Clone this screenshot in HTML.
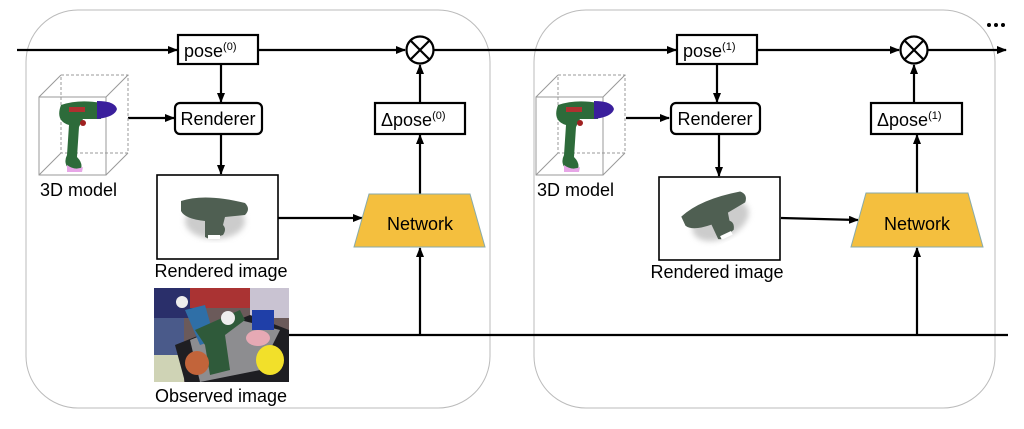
<!DOCTYPE html>
<html><head><meta charset="utf-8"><style>
html,body{margin:0;padding:0;background:#fff;width:1024px;height:429px;overflow:hidden}
svg{display:block}
text{font-family:"Liberation Sans",sans-serif;fill:#000}
</style></head><body>
<svg width="1024" height="429" viewBox="0 0 1024 429" xmlns="http://www.w3.org/2000/svg">
<defs>
<marker id="ah" markerWidth="10" markerHeight="8" refX="9" refY="4" orient="auto" markerUnits="userSpaceOnUse">
<path d="M0,0 L10,4 L0,8 z" fill="#000"/></marker>
<filter id="bl"><feGaussianBlur stdDeviation="3"/></filter>
<g id="cube">
<g stroke="#999" stroke-width="1" fill="none">
<path d="M0,78 L22,56 M0,0 L22,-22 M67,0 L89,-22 M67,78 L89,56"/>
<rect x="22" y="-22" width="67" height="78" stroke-dasharray="3,2"/>
<rect x="0" y="0" width="67" height="78"/>
</g>
<path d="M22,8 Q40,2 62,6 L62,22 L44,22 L40,30 L38,60 Q44,66 42,72 L30,72 Q24,66 28,58 L30,28 Q16,24 22,8z" fill="#2d6b3a"/>
<path d="M58,4 Q76,4 78,12 Q76,20 58,22z" fill="#3a1f9c"/>
<rect x="30" y="10" width="16" height="5" fill="#b03030"/>
<circle cx="44" cy="26" r="3" fill="#a02020"/>
<path d="M28,68 Q36,74 44,70 L43,75 L28,75z" fill="#e7a6e7"/>
</g>
<g id="rend">
<ellipse cx="0" cy="6" rx="30" ry="18" fill="#ccc" filter="url(#bl)"/>
<path d="M-34,-14 Q-10,-22 30,-12 Q36,-6 30,0 L10,2 L8,10 Q12,14 8,20 L-6,24 L-10,22 L-10,6 Q-30,4 -34,-4z" fill="#4f5f52"/>
<rect x="-7" y="20" width="12" height="4" fill="#fff"/>
</g>
</defs>

<rect x="26" y="10" width="464" height="398" rx="52" fill="none" stroke="#bbb" stroke-width="1"/>
<rect x="534" y="10" width="461" height="398" rx="52" fill="none" stroke="#bbb" stroke-width="1"/>

<g stroke="#000" stroke-width="2.2" fill="none">
<line x1="17" y1="50" x2="177" y2="50" marker-end="url(#ah)"/>
<line x1="258" y1="50" x2="405" y2="50" marker-end="url(#ah)"/>
<line x1="434" y1="50" x2="676" y2="50" marker-end="url(#ah)"/>
<line x1="757" y1="50" x2="899" y2="50" marker-end="url(#ah)"/>
<line x1="928" y1="50" x2="1006" y2="50" marker-end="url(#ah)"/>
<line x1="221" y1="64" x2="221" y2="102" marker-end="url(#ah)"/>
<line x1="128" y1="118" x2="174" y2="118" marker-end="url(#ah)"/>
<line x1="221" y1="134" x2="221" y2="174" marker-end="url(#ah)"/>
<line x1="278" y1="218" x2="362" y2="218" marker-end="url(#ah)"/>
<line x1="420" y1="194" x2="420" y2="135" marker-end="url(#ah)"/>
<line x1="420" y1="103" x2="420" y2="65" marker-end="url(#ah)"/>
<line x1="420" y1="335" x2="420" y2="248" marker-end="url(#ah)"/>
<line x1="717" y1="64" x2="717" y2="102" marker-end="url(#ah)"/>
<line x1="626" y1="118" x2="669" y2="118" marker-end="url(#ah)"/>
<line x1="719" y1="134" x2="719" y2="176" marker-end="url(#ah)"/>
<line x1="781" y1="218" x2="858" y2="220" marker-end="url(#ah)"/>
<line x1="917" y1="193" x2="917" y2="135" marker-end="url(#ah)"/>
<line x1="914" y1="103" x2="914" y2="65" marker-end="url(#ah)"/>
<line x1="917" y1="335" x2="917" y2="248" marker-end="url(#ah)"/>
<line x1="288" y1="335" x2="1008" y2="335"/>
</g>

<g stroke="#000" stroke-width="2.2" fill="#fff">
<circle cx="420" cy="50" r="13.5"/>
<circle cx="914" cy="50" r="13.5"/>
</g>
<g stroke="#000" stroke-width="2.2">
<path d="M410.5,40.5 L429.5,59.5 M429.5,40.5 L410.5,59.5"/>
<path d="M904.5,40.5 L923.5,59.5 M923.5,40.5 L904.5,59.5"/>
</g>
<g fill="#000"><circle cx="989" cy="25" r="2"/><circle cx="996" cy="25" r="2"/><circle cx="1003" cy="25" r="2"/></g>

<g stroke="#000" stroke-width="2.2" fill="#fff">
<rect x="178" y="35" width="80" height="29"/>
<rect x="175" y="103" width="87" height="31" rx="5"/>
<rect x="375" y="103" width="90" height="31"/>
<rect x="157" y="175" width="121" height="84" stroke-width="1.6"/>
<rect x="677" y="35" width="80" height="29"/>
<rect x="671" y="103" width="89" height="31" rx="5"/>
<rect x="871" y="103" width="91" height="31"/>
<rect x="659" y="177" width="121" height="83" stroke-width="1.6"/>
</g>
<polygon points="369,194 470,194 485,247 354,247" fill="#f4bf3e" stroke="#8aa" stroke-width="1"/>
<polygon points="866,193 968,193 983,247 851,247" fill="#f4bf3e" stroke="#8aa" stroke-width="1"/>

<use href="#cube" x="39" y="97"/>
<use href="#cube" x="536" y="97"/>
<use href="#rend" x="215" y="215"/>
<g transform="translate(718,215) rotate(-25)"><use href="#rend"/></g>

<g>
<rect x="154" y="288" width="135" height="94" fill="#6b5a5a"/>
<rect x="154" y="288" width="40" height="30" fill="#2a2f6a"/>
<rect x="190" y="288" width="60" height="20" fill="#a33"/>
<rect x="250" y="288" width="39" height="30" fill="#c9c3d2"/>
<rect x="154" y="318" width="30" height="40" fill="#4a5a8a"/>
<rect x="154" y="355" width="30" height="27" fill="#cfd3b5"/>
<polygon points="175,345 250,315 289,330 289,382 185,382" fill="#1e1e22"/>
<polygon points="190,340 240,320 280,330 260,370 200,382" fill="#d7d7da" opacity="0.6"/>
<path d="M185,310 L205,305 L215,340 L200,345z" fill="#2f6fa7"/>
<path d="M195,330 L240,310 L245,320 L225,335 L230,370 L210,375 L205,345z" fill="#2f5a3a"/>
<rect x="252" y="310" width="22" height="20" fill="#1f3fa8"/>
<ellipse cx="258" cy="338" rx="12" ry="8" fill="#e6a9b4"/>
<ellipse cx="270" cy="360" rx="14" ry="15" fill="#f2e02a"/>
<ellipse cx="197" cy="363" rx="12" ry="12" fill="#c2643a"/>
<circle cx="228" cy="318" r="7" fill="#eee"/>
<circle cx="182" cy="302" r="6" fill="#eee"/>
</g>

<g font-size="18">
<text x="184" y="57">pose<tspan font-size="11" dy="-7">(0)</tspan></text>
<text x="218" y="125" text-anchor="middle">Renderer</text>
<text x="381" y="126">Δpose<tspan font-size="11" dy="-7">(0)</tspan></text>
<text x="420" y="230" text-anchor="middle">Network</text>
<text x="40" y="196">3D model</text>
<text x="221" y="277" text-anchor="middle">Rendered image</text>
<text x="221" y="402" text-anchor="middle">Observed image</text>
<text x="683" y="57">pose<tspan font-size="11" dy="-7">(1)</tspan></text>
<text x="715" y="125" text-anchor="middle">Renderer</text>
<text x="877" y="126">Δpose<tspan font-size="11" dy="-7">(1)</tspan></text>
<text x="917" y="230" text-anchor="middle">Network</text>
<text x="537" y="196">3D model</text>
<text x="717" y="278" text-anchor="middle">Rendered image</text>
</g>
</svg>
</body></html>
